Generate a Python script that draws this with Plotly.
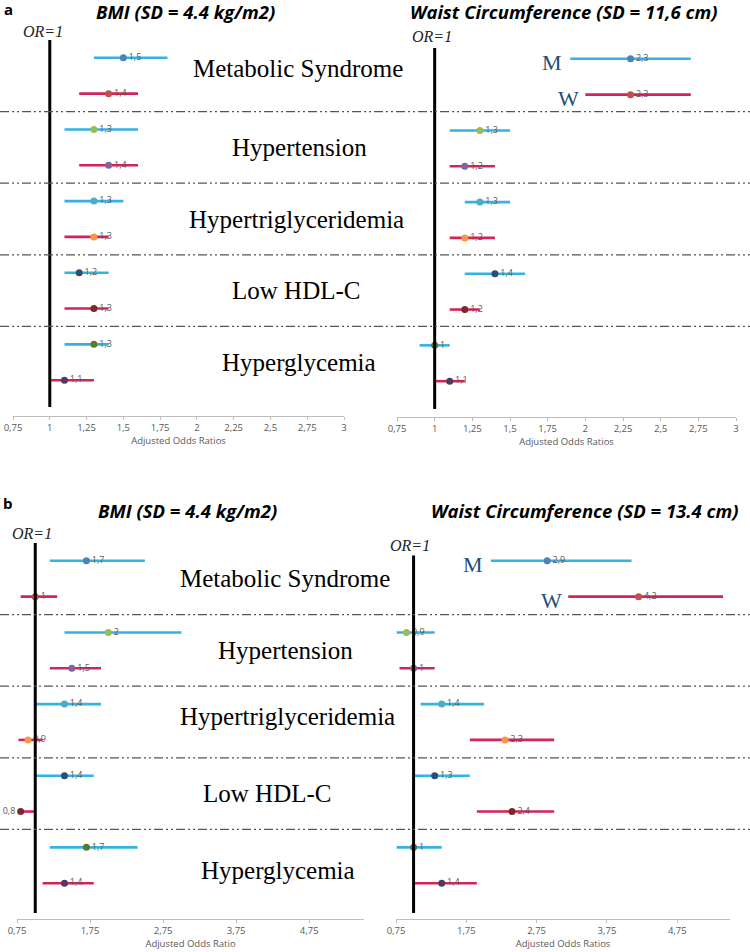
import plotly.graph_objects as go

# ---------------- DATA ----------------
categories = ["Metabolic Syndrome", "Hypertension", "Hypertriglyceridemia", "Low HDL-C", "Hyperglycemia"]

# Panel a – BMI (SD = 4.4 kg/m2)
a_bmi_m_or = [1.5, 1.3, 1.3, 1.2, 1.3]
a_bmi_m_lo = [1.3, 1.1, 1.1, 1.1, 1.1]
a_bmi_m_hi = [1.8, 1.6, 1.5, 1.4, 1.4]
a_bmi_w_or = [1.4, 1.4, 1.3, 1.3, 1.1]
a_bmi_w_lo = [1.2, 1.2, 1.1, 1.1, 1.0]
a_bmi_w_hi = [1.6, 1.6, 1.4, 1.4, 1.3]

# Panel a – Waist circumference (SD = 11,6 cm)
a_wc_m_or = [2.3, 1.3, 1.3, 1.4, 1.0]
a_wc_m_lo = [1.9, 1.1, 1.2, 1.2, 0.9]
a_wc_m_hi = [2.7, 1.5, 1.5, 1.6, 1.1]
a_wc_w_or = [2.3, 1.2, 1.2, 1.2, 1.1]
a_wc_w_lo = [2.0, 1.1, 1.1, 1.1, 1.0]
a_wc_w_hi = [2.7, 1.4, 1.4, 1.3, 1.2]

# Panel b – BMI (SD = 4.4 kg/m2)
b_bmi_m_or = [1.7, 2.0, 1.4, 1.4, 1.7]
b_bmi_m_lo = [1.2, 1.4, 1.0, 1.0, 1.2]
b_bmi_m_hi = [2.5, 3.0, 1.9, 1.8, 2.4]
b_bmi_w_or = [1.0, 1.5, 0.9, 0.8, 1.4]
b_bmi_w_lo = [0.8, 1.2, 0.77, 0.77, 1.1]
b_bmi_w_hi = [1.3, 1.9, 1.1, 1.0, 1.8]

# Panel b – Waist circumference (SD = 13.4 cm)
b_wc_m_or = [2.9, 0.9, 1.4, 1.3, 1.0]
b_wc_m_lo = [2.1, 0.76, 1.1, 1.0, 0.76]
b_wc_m_hi = [4.1, 1.3, 2.0, 1.8, 1.4]
b_wc_w_or = [4.2, 1.0, 2.3, 2.4, 1.4]
b_wc_w_lo = [3.2, 0.8, 1.8, 1.9, 1.0]
b_wc_w_hi = [5.4, 1.3, 3.0, 3.0, 1.9]

a_ticks = [0.75, 1, 1.25, 1.5, 1.75, 2, 2.25, 2.5, 2.75, 3]
b_ticks = [0.75, 1.75, 2.75, 3.75, 4.75]

# ---------------- STYLE ----------------
M_LINE = "#33B3E3"
W_LINE = "#D2235A"
M_PT = ["#4F81BD", "#9BBB59", "#4BACC6", "#2C4D75", "#5F7530"]
W_PT = ["#C0504D", "#8064A2", "#F79646", "#772C2A", "#4D3B62"]
W, H = 750, 952


def fmt(v):
    return f"{v:g}".replace(".", ",")


def py(pix):  # pixel y (from top) to paper
    return 1 - pix / H


def px(pix):
    return pix / W


fig = go.Figure()

panels = [
    ("x", "y", (a_bmi_m_or, a_bmi_m_lo, a_bmi_m_hi, a_bmi_w_or, a_bmi_w_lo, a_bmi_w_hi),
     (13, 344), (416, 22), [0.75, 3], a_ticks, "Adjusted Odds Ratios", None),
    ("x2", "y2", (a_wc_m_or, a_wc_m_lo, a_wc_m_hi, a_wc_w_or, a_wc_w_lo, a_wc_w_hi),
     (397, 736), (417, 23), [0.75, 3], a_ticks, "Adjusted Odds Ratios", None),
    ("x3", "y3", (b_bmi_m_or, b_bmi_m_lo, b_bmi_m_hi, b_bmi_w_or, b_bmi_w_lo, b_bmi_w_hi),
     (17, 364), (919, 525), [0.75, 5.5], b_ticks, "Adjusted Odds Ratio", 3),
    ("x4", "y4", (b_wc_m_or, b_wc_m_lo, b_wc_m_hi, b_wc_w_or, b_wc_w_lo, b_wc_w_hi),
     (396, 730), (919, 525), [0.75, 5.5], b_ticks, "Adjusted Odds Ratios", None),
]

layout_axes = {}
n = len(categories)
for idx, (xa, ya, d, xd, yd, rng, ticks, xtitle, left_idx) in enumerate(panels):
    m_or, m_lo, m_hi, w_or, w_lo, w_hi = d
    m_y = [2 * (n - i) for i in range(n)]
    w_y = [2 * (n - i) - 1 for i in range(n)]
    wpos = ["middle right"] * n
    if left_idx is not None:
        wpos[left_idx] = "middle left"
    for vals, lo, hi, yy, lc, pc, tpos in [
        (m_or, m_lo, m_hi, m_y, M_LINE, M_PT, ["middle right"] * n),
        (w_or, w_lo, w_hi, w_y, W_LINE, W_PT, wpos),
    ]:
        fig.add_trace(go.Scatter(
            x=vals, y=yy, xaxis=xa, yaxis=ya, mode="markers+text",
            text=[fmt(v) for v in vals], textposition=tpos,
            textfont=dict(size=9, color="#595959", family="Open Sans"),
            marker=dict(color=pc, size=7),
            error_x=dict(type="data", symmetric=False,
                         array=[h - v for h, v in zip(hi, vals)],
                         arrayminus=[v - l for v, l in zip(vals, lo)],
                         color=lc, thickness=2.6, width=0),
            showlegend=False, cliponaxis=False, hoverinfo="skip"))
    xkey = "xaxis" if xa == "x" else "xaxis" + xa[1:]
    ykey = "yaxis" if ya == "y" else "yaxis" + ya[1:]
    layout_axes[xkey] = dict(
        domain=[px(xd[0]), px(xd[1])], range=rng, anchor=ya, automargin=False,
        tickvals=ticks, ticktext=[fmt(t) for t in ticks],
        showline=True, linecolor="#BFBFBF", linewidth=1,
        ticks="outside", ticklen=3, tickcolor="#BFBFBF",
        tickfont=dict(size=9.5, color="#595959", family="Open Sans"),
        showgrid=False, zeroline=False, fixedrange=True,
        title=dict(text=xtitle, font=dict(size=9.5, color="#595959", family="Open Sans"), standoff=2))
    layout_axes[ykey] = dict(
        domain=[py(yd[0]), py(yd[1])], range=[0, 11], anchor=xa, automargin=False,
        visible=False, showgrid=False, zeroline=False, fixedrange=True)

fig.update_layout(**layout_axes)

shapes = []
annotations = []


def ann(**kw):
    kw.setdefault("xanchor", "center")
    kw.setdefault("yanchor", "middle")
    kw.setdefault("showarrow", False)
    annotations.append(kw)


# OR = 1 reference lines
or_lines = [("x", "y", 0.25, 10.5, 43, 32), ("x2", "y2", 0.22, 10.3, 432, 37),
            ("x3", "y3", 0.17, 10.5, 32, 533), ("x4", "y4", 0.17, 10.15, 410, 545)]
for xa, ya, y0, y1, lx, ly in or_lines:
    shapes.append(dict(type="line", xref=xa, yref=ya, x0=1, x1=1, y0=y0, y1=y1,
                       line=dict(color="black", width=3)))
    ann(xref="paper", yref="paper", x=px(lx), y=py(ly), text="<i>OR=1</i>",
        font=dict(family="Liberation Serif", size=16, color="#222222"))

# dash-dot separators spanning the full width
for ya in ["y", "y3"]:
    for k in range(1, n):
        ysep = 2 * (n - k) + 0.5
        shapes.append(dict(type="line", xref="paper", yref=ya, x0=0, x1=1, y0=ysep, y1=ysep,
                           line=dict(color="#555555", width=1.2, dash="9px,3px,2px,3px,2px,3px")))

# category labels
a_cx = [298, 299, 296, 296, 299]
b_cx = [285, 285, 287, 267, 278]
for ya, cxs, yoff in [("y", a_cx, [0.2, 0, 0, 0, 0]), ("y3", b_cx, [0, 0, 0.15, 0, -0.15])]:
    for i, cat in enumerate(categories):
        ann(xref="paper", yref=ya, x=px(cxs[i]), y=2 * (n - i) - 0.5 + yoff[i], text=cat,
            font=dict(family="Liberation Serif", size=25, color="black"))

# M / W labels next to first row of waist panels
for xa, ya, d in [("x2", "y2", panels[1][2]), ("x4", "y4", panels[3][2])]:
    ann(xref=xa, yref=ya, x=d[1][0], y=2 * n, xanchor="right", xshift=-6, yshift=-4, text="M",
        font=dict(family="Liberation Serif", size=22, color="#1F4E79"))
    ann(xref=xa, yref=ya, x=d[4][0], y=2 * n - 1, xanchor="right", xshift=-4, yshift=-4, text="W",
        font=dict(family="Liberation Serif", size=22, color="#1F4E79"))

# titles and panel letters
titles = [("BMI (SD = 4.4 kg/m2)", 185, 12), ("Waist Circumference (SD = 11,6 cm)", 564, 12),
          ("BMI (SD = 4.4 kg/m2)", 187, 510), ("Waist Circumference (SD = 13.4 cm)", 585, 510)]
for t, x, y in titles:
    ann(xref="paper", yref="paper", x=px(x), y=py(y), text=f"<b><i>{t}</i></b>",
        font=dict(family="Open Sans", size=18.5, color="black"))
for t, x, y in [("a", 8, 9), ("b", 8, 503)]:
    ann(xref="paper", yref="paper", x=px(x), y=py(y), text=f"<b>{t}</b>",
        font=dict(family="Open Sans", size=15, color="black"))

fig.update_layout(width=W, height=H, margin=dict(l=0, r=0, t=0, b=0, autoexpand=False),
                  paper_bgcolor="white", plot_bgcolor="white",
                  shapes=shapes, annotations=annotations, showlegend=False)

fig.write_html("out.html", config={"displayModeBar": False},
               post_script="document.body.style.margin='0';document.body.style.padding='0';")
